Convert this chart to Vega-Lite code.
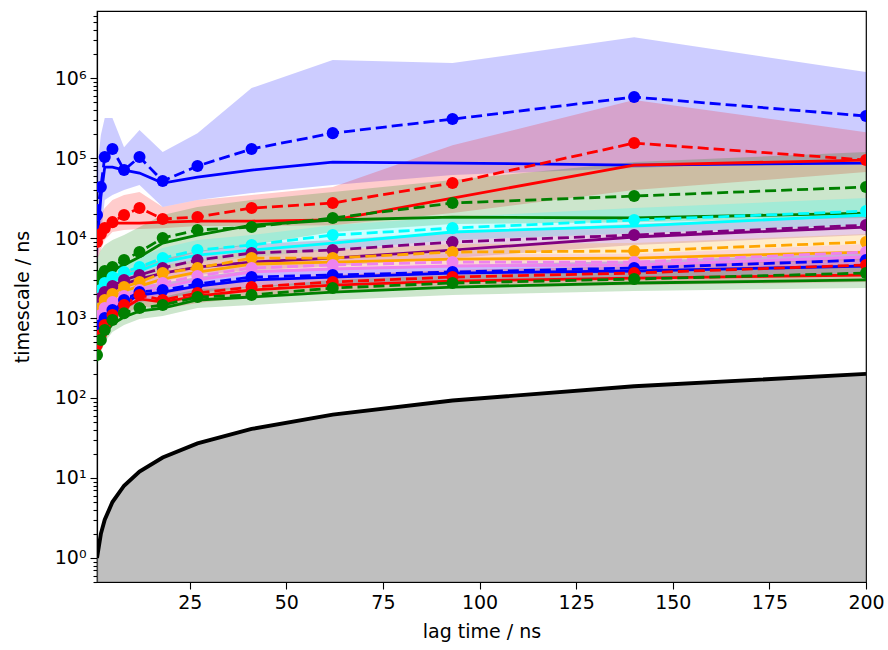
{
  "$schema": "https://vega.github.io/schema/vega-lite/v6.json",
  "width": 769,
  "height": 571,
  "autosize": {"type": "none"},
  "padding": {"left": 97, "top": 11, "right": 22, "bottom": 68},
  "background": "white",
  "config": {
    "view": {"stroke": "black", "strokeWidth": 1.2},
    "font": "DejaVu Sans",
    "axis": {
      "grid": false, "domainColor": "black", "domainWidth": 1.2, "tickColor": "black", "tickWidth": 1.1,
      "labelColor": "black", "titleColor": "black", "labelFont": "DejaVu Sans", "titleFont": "DejaVu Sans",
      "labelFontSize": 19, "titleFontSize": 19, "titleFontWeight": "normal", "labelFlush": false, "labelOverlap": false
    }
  },
  "datasets": {
    "lags": [{"lag":1},{"lag":2},{"lag":3},{"lag":5},{"lag":8},{"lag":12},{"lag":18},{"lag":27},{"lag":41},{"lag":62},{"lag":93},{"lag":140},{"lag":200}],
    "its": [
      {"p":0,"lag":1,"ml":8180,"mean":19400,"lo":4600,"hi":70800},
      {"p":0,"lag":2,"ml":32500,"mean":43400,"lo":10900,"hi":194000},
      {"p":0,"lag":3,"ml":77200,"mean":103000,"lo":29900,"hi":316000},
      {"p":0,"lag":5,"ml":77200,"mean":130000,"lo":34500,"hi":316000},
      {"p":0,"lag":8,"ml":70800,"mean":70800,"lo":39800,"hi":137000},
      {"p":0,"lag":12,"ml":64900,"mean":103000,"lo":46000,"hi":224000},
      {"p":0,"lag":18,"ml":48700,"mean":51600,"lo":24400,"hi":119000},
      {"p":0,"lag":27,"ml":57900,"mean":79400,"lo":29900,"hi":205000},
      {"p":0,"lag":41,"ml":70800,"mean":130000,"lo":36500,"hi":750000},
      {"p":0,"lag":62,"ml":89100,"mean":205000,"lo":46000,"hi":1680000},
      {"p":0,"lag":93,"ml":86600,"mean":307000,"lo":61300,"hi":1540000},
      {"p":0,"lag":140,"ml":81800,"mean":579000,"lo":75000,"hi":3250000},
      {"p":0,"lag":200,"ml":86600,"mean":335000,"lo":94400,"hi":1190000},
      {"p":1,"lag":1,"ml":8180,"mean":8910,"lo":5310,"hi":14500},
      {"p":1,"lag":2,"ml":10300,"mean":11200,"lo":7080,"hi":19400},
      {"p":1,"lag":3,"ml":12600,"mean":13300,"lo":9440,"hi":23700},
      {"p":1,"lag":5,"ml":15400,"mean":15800,"lo":11900,"hi":29900},
      {"p":1,"lag":8,"ml":15400,"mean":19400,"lo":12600,"hi":34500},
      {"p":1,"lag":12,"ml":15400,"mean":23700,"lo":12960,"hi":37600},
      {"p":1,"lag":18,"ml":15800,"mean":17300,"lo":13300,"hi":24400},
      {"p":1,"lag":27,"ml":16300,"mean":18300,"lo":14100,"hi":29900},
      {"p":1,"lag":41,"ml":16300,"mean":23700,"lo":14100,"hi":34500},
      {"p":1,"lag":62,"ml":16800,"mean":27400,"lo":14500,"hi":43400},
      {"p":1,"lag":93,"ml":31600,"mean":48700,"lo":20500,"hi":145000},
      {"p":1,"lag":140,"ml":81800,"mean":154000,"lo":39800,"hi":531000},
      {"p":1,"lag":200,"ml":94400,"mean":94400,"lo":66800,"hi":211000},
      {"p":2,"lag":1,"ml":2240,"mean":2580,"lo":1450,"hi":5620},
      {"p":2,"lag":2,"ml":2990,"mean":3350,"lo":1880,"hi":7080},
      {"p":2,"lag":3,"ml":3450,"mean":3870,"lo":2240,"hi":8180},
      {"p":2,"lag":5,"ml":3980,"mean":4340,"lo":2660,"hi":9440},
      {"p":2,"lag":8,"ml":4600,"mean":5310,"lo":3160,"hi":10900},
      {"p":2,"lag":12,"ml":5790,"mean":6680,"lo":3760,"hi":13700},
      {"p":2,"lag":18,"ml":8660,"mean":10000,"lo":5010,"hi":19400},
      {"p":2,"lag":27,"ml":10900,"mean":12600,"lo":6680,"hi":24400},
      {"p":2,"lag":41,"ml":14500,"mean":13700,"lo":8180,"hi":29900},
      {"p":2,"lag":62,"ml":16800,"mean":17800,"lo":11900,"hi":37600},
      {"p":2,"lag":93,"ml":18300,"mean":27400,"lo":14960,"hi":53100},
      {"p":2,"lag":140,"ml":17800,"mean":33500,"lo":15800,"hi":89100},
      {"p":2,"lag":200,"ml":20500,"mean":43400,"lo":17800,"hi":119000},
      {"p":3,"lag":1,"ml":1450,"mean":1680,"lo":1190,"hi":2240},
      {"p":3,"lag":2,"ml":1940,"mean":2240,"lo":1580,"hi":2990},
      {"p":3,"lag":3,"ml":2370,"mean":2740,"lo":1940,"hi":3650},
      {"p":3,"lag":5,"ml":2900,"mean":3250,"lo":2300,"hi":4340},
      {"p":3,"lag":8,"ml":3350,"mean":3760,"lo":2660,"hi":5010},
      {"p":3,"lag":12,"ml":3870,"mean":4340,"lo":3070,"hi":5790},
      {"p":3,"lag":18,"ml":5010,"mean":5620,"lo":3980,"hi":7500},
      {"p":3,"lag":27,"ml":6130,"mean":7080,"lo":5010,"hi":9440},
      {"p":3,"lag":41,"ml":7080,"mean":8180,"lo":5790,"hi":10900},
      {"p":3,"lag":62,"ml":8660,"mean":10900,"lo":7080,"hi":14500},
      {"p":3,"lag":93,"ml":11900,"mean":13300,"lo":9440,"hi":18300},
      {"p":3,"lag":140,"ml":14100,"mean":16800,"lo":11500,"hi":23700},
      {"p":3,"lag":200,"ml":19400,"mean":21700,"lo":14500,"hi":31600},
      {"p":4,"lag":1,"ml":1090,"mean":1260,"lo":866,"hi":1630},
      {"p":4,"lag":2,"ml":1540,"mean":1780,"lo":1220,"hi":2300},
      {"p":4,"lag":3,"ml":1880,"mean":2110,"lo":1500,"hi":2740},
      {"p":4,"lag":5,"ml":2240,"mean":2510,"lo":1780,"hi":3250},
      {"p":4,"lag":8,"ml":2660,"mean":2990,"lo":2110,"hi":3870},
      {"p":4,"lag":12,"ml":3070,"mean":3450,"lo":2440,"hi":4470},
      {"p":4,"lag":18,"ml":3650,"mean":4220,"lo":2900,"hi":5460},
      {"p":4,"lag":27,"ml":4340,"mean":5310,"lo":3450,"hi":6880},
      {"p":4,"lag":41,"ml":5010,"mean":6490,"lo":3980,"hi":8410},
      {"p":4,"lag":62,"ml":5620,"mean":7080,"lo":4470,"hi":9440},
      {"p":4,"lag":93,"ml":7080,"mean":8910,"lo":5620,"hi":11900},
      {"p":4,"lag":140,"ml":10300,"mean":10900,"lo":8180,"hi":15000},
      {"p":4,"lag":200,"ml":13700,"mean":14500,"lo":10900,"hi":19400},
      {"p":5,"lag":1,"ml":891,"mean":1000,"lo":708,"hi":1260},
      {"p":5,"lag":2,"ml":1190,"mean":1330,"lo":944,"hi":1680},
      {"p":5,"lag":3,"ml":1500,"mean":1680,"lo":1190,"hi":2110},
      {"p":5,"lag":5,"ml":1780,"mean":2000,"lo":1410,"hi":2510},
      {"p":5,"lag":8,"ml":2180,"mean":2440,"lo":1730,"hi":3070},
      {"p":5,"lag":12,"ml":2510,"mean":2820,"lo":2000,"hi":3550},
      {"p":5,"lag":18,"ml":3070,"mean":3650,"lo":2440,"hi":4600},
      {"p":5,"lag":27,"ml":3760,"mean":4220,"lo":2990,"hi":5310},
      {"p":5,"lag":41,"ml":4730,"mean":5620,"lo":3760,"hi":7080},
      {"p":5,"lag":62,"ml":5010,"mean":5620,"lo":3980,"hi":7080},
      {"p":5,"lag":93,"ml":5460,"mean":6680,"lo":4340,"hi":8410},
      {"p":5,"lag":140,"ml":5620,"mean":6880,"lo":4470,"hi":8660},
      {"p":5,"lag":200,"ml":6680,"mean":8910,"lo":5310,"hi":11200},
      {"p":6,"lag":1,"ml":729,"mean":818,"lo":579,"hi":1030},
      {"p":6,"lag":2,"ml":972,"mean":1090,"lo":772,"hi":1370},
      {"p":6,"lag":3,"ml":1190,"mean":1330,"lo":944,"hi":1680},
      {"p":6,"lag":5,"ml":1410,"mean":1580,"lo":1120,"hi":2000},
      {"p":6,"lag":8,"ml":1680,"mean":1880,"lo":1330,"hi":2370},
      {"p":6,"lag":12,"ml":2000,"mean":2240,"lo":1580,"hi":2820},
      {"p":6,"lag":18,"ml":2440,"mean":2740,"lo":1940,"hi":3450},
      {"p":6,"lag":27,"ml":2990,"mean":3350,"lo":2370,"hi":4220},
      {"p":6,"lag":41,"ml":3760,"mean":4220,"lo":2990,"hi":5310},
      {"p":6,"lag":62,"ml":4100,"mean":4600,"lo":3250,"hi":5790},
      {"p":6,"lag":93,"ml":4470,"mean":5010,"lo":3550,"hi":6310},
      {"p":6,"lag":140,"ml":4600,"mean":5010,"lo":3650,"hi":6310},
      {"p":6,"lag":200,"ml":5790,"mean":6680,"lo":4600,"hi":8410},
      {"p":7,"lag":1,"ml":562,"mean":613,"lo":460,"hi":750},
      {"p":7,"lag":2,"ml":750,"mean":818,"lo":613,"hi":1000},
      {"p":7,"lag":3,"ml":944,"mean":1000,"lo":772,"hi":1220},
      {"p":7,"lag":5,"ml":1150,"mean":1260,"lo":944,"hi":1540},
      {"p":7,"lag":8,"ml":1540,"mean":1680,"lo":1260,"hi":2050},
      {"p":7,"lag":12,"ml":1940,"mean":2110,"lo":1580,"hi":2580},
      {"p":7,"lag":18,"ml":2110,"mean":2240,"lo":1730,"hi":2740},
      {"p":7,"lag":27,"ml":2510,"mean":2660,"lo":2050,"hi":3250},
      {"p":7,"lag":41,"ml":2990,"mean":3250,"lo":2440,"hi":3980},
      {"p":7,"lag":62,"ml":3250,"mean":3450,"lo":2660,"hi":4220},
      {"p":7,"lag":93,"ml":3650,"mean":3760,"lo":2990,"hi":4600},
      {"p":7,"lag":140,"ml":3870,"mean":4220,"lo":3160,"hi":5160},
      {"p":7,"lag":200,"ml":4470,"mean":5310,"lo":3650,"hi":6490},
      {"p":8,"lag":1,"ml":422,"mean":460,"lo":345,"hi":562},
      {"p":8,"lag":2,"ml":562,"mean":613,"lo":460,"hi":750},
      {"p":8,"lag":3,"ml":750,"mean":818,"lo":613,"hi":1000},
      {"p":8,"lag":5,"ml":1000,"mean":1090,"lo":818,"hi":1330},
      {"p":8,"lag":8,"ml":1330,"mean":1450,"lo":1090,"hi":1780},
      {"p":8,"lag":12,"ml":1730,"mean":1940,"lo":1410,"hi":2370},
      {"p":8,"lag":18,"ml":1580,"mean":1680,"lo":1300,"hi":2050},
      {"p":8,"lag":27,"ml":1880,"mean":2050,"lo":1540,"hi":2510},
      {"p":8,"lag":41,"ml":2240,"mean":2440,"lo":1830,"hi":2990},
      {"p":8,"lag":62,"ml":2580,"mean":2820,"lo":2110,"hi":3450},
      {"p":8,"lag":93,"ml":2900,"mean":3250,"lo":2370,"hi":3980},
      {"p":8,"lag":140,"ml":3160,"mean":3650,"lo":2580,"hi":4470},
      {"p":8,"lag":200,"ml":3450,"mean":4600,"lo":2820,"hi":5620},
      {"p":9,"lag":1,"ml":316,"mean":345,"lo":251,"hi":434},
      {"p":9,"lag":2,"ml":460,"mean":531,"lo":365,"hi":668},
      {"p":9,"lag":3,"ml":631,"mean":708,"lo":501,"hi":891},
      {"p":9,"lag":5,"ml":841,"mean":944,"lo":668,"hi":1190},
      {"p":9,"lag":8,"ml":1030,"mean":1150,"lo":818,"hi":1450},
      {"p":9,"lag":12,"ml":1220,"mean":1330,"lo":972,"hi":1680},
      {"p":9,"lag":18,"ml":1330,"mean":1450,"lo":1060,"hi":1830},
      {"p":9,"lag":27,"ml":1680,"mean":1830,"lo":1330,"hi":2300},
      {"p":9,"lag":41,"ml":1830,"mean":1940,"lo":1450,"hi":2440},
      {"p":9,"lag":62,"ml":2110,"mean":2370,"lo":1680,"hi":2990},
      {"p":9,"lag":93,"ml":2440,"mean":2740,"lo":1940,"hi":3450},
      {"p":9,"lag":140,"ml":2740,"mean":3070,"lo":2180,"hi":3870},
      {"p":9,"lag":200,"ml":2990,"mean":3650,"lo":2370,"hi":4600}
    ]
  },
  "layer": [
    {
      "data": {"name": "lags"},
      "mark": {"type": "area", "color": "#808080", "opacity": 0.5, "clip": true},
      "encoding": {
        "x": {"field": "lag", "type": "quantitative", "scale": {"domain": [1, 200], "nice": false, "zero": false},
              "axis": {"title": "lag time / ns", "values": [25, 50, 75, 100, 125, 150, 175, 200], "tickSize": 7, "labelPadding": 4, "titlePadding": 10}},
        "y": {"field": "lag", "type": "quantitative", "scale": {"type": "log", "domain": [0.5, 6900000], "nice": false},
              "axis": {
                "title": "timescale / ns",
                "values": [0.5,0.6,0.7,0.8,0.9,1,2,3,4,5,6,7,8,9,10,20,30,40,50,60,70,80,90,100,200,300,400,500,600,700,800,900,1000,2000,3000,4000,5000,6000,7000,8000,9000,10000,20000,30000,40000,50000,60000,70000,80000,90000,100000,200000,300000,400000,500000,600000,700000,800000,900000,1000000,2000000,3000000,4000000,5000000,6000000],
                "labelExpr": "abs(log(datum.value)/LN10 - round(log(datum.value)/LN10)) < 0.001 ? '10' + ['⁰','¹','²','³','⁴','⁵','⁶'][round(log(datum.value)/LN10)] : ''",
                "tickSize": {"condition": {"test": "abs(log(datum.value)/LN10 - round(log(datum.value)/LN10)) < 0.001", "value": 7}, "value": 4},
                "labelPadding": 4, "titlePadding": 22
              }},
        "y2": {"datum": 0.5}
      }
    },
    {
      "data": {"name": "lags"},
      "mark": {"type": "line", "color": "black", "strokeWidth": 3.9, "clip": true},
      "encoding": {
        "x": {"field": "lag", "type": "quantitative", "title": "lag time / ns"},
        "y": {"field": "lag", "type": "quantitative", "scale": {"type": "log"}, "title": "timescale / ns"}
      }
    },
    {
      "data": {"name": "its"},
      "mark": {"type": "area", "opacity": 0.2, "clip": true},
      "encoding": {
        "x": {"field": "lag", "type": "quantitative", "title": "lag time / ns"},
        "y": {"field": "lo", "type": "quantitative", "scale": {"type": "log"}, "title": "timescale / ns"},
        "y2": {"field": "hi"},
        "color": {"field": "p", "type": "nominal", "scale": {"domain": [0,1,2,3,4,5,6,7,8,9], "range": ["#0000ff","#ff0000","#008000","#00ffff","#800080","#ffa500","#ee82ee","#0000ff","#ff0000","#008000"]}, "legend": null}
      }
    },
    {
      "data": {"name": "its"},
      "mark": {"type": "line", "strokeWidth": 2.8, "clip": true},
      "encoding": {
        "x": {"field": "lag", "type": "quantitative", "title": "lag time / ns"},
        "y": {"field": "ml", "type": "quantitative", "scale": {"type": "log"}, "title": "timescale / ns"},
        "color": {"field": "p", "type": "nominal", "legend": null}
      }
    },
    {
      "data": {"name": "its"},
      "mark": {"type": "line", "strokeWidth": 2.8, "strokeDash": [11, 5], "clip": true},
      "encoding": {
        "x": {"field": "lag", "type": "quantitative", "title": "lag time / ns"},
        "y": {"field": "mean", "type": "quantitative", "scale": {"type": "log"}, "title": "timescale / ns"},
        "color": {"field": "p", "type": "nominal", "legend": null}
      }
    },
    {
      "data": {"name": "its"},
      "mark": {"type": "circle", "size": 145, "opacity": 1, "clip": true},
      "encoding": {
        "x": {"field": "lag", "type": "quantitative", "title": "lag time / ns"},
        "y": {"field": "mean", "type": "quantitative", "scale": {"type": "log"}, "title": "timescale / ns"},
        "color": {"field": "p", "type": "nominal", "legend": null}
      }
    }
  ]
}
